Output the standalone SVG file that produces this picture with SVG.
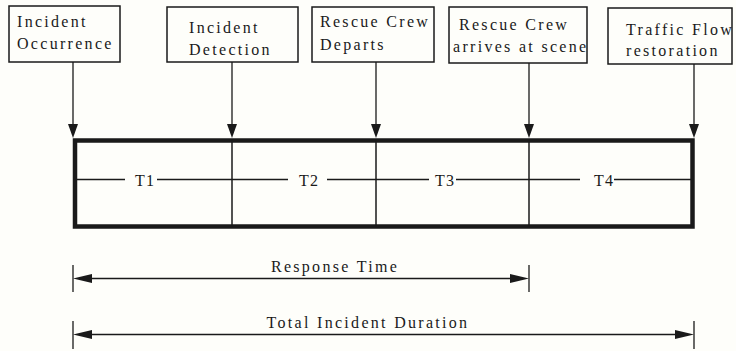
<svg xmlns="http://www.w3.org/2000/svg" width="736" height="351" viewBox="0 0 736 351">
<defs>
<style>
.box{fill:none;stroke:#1a1a1a;stroke-width:1.5}
.lbl{font-family:"Liberation Serif","Times New Roman",serif;font-size:16px;letter-spacing:2.3px;fill:#1a1a1a}
.t{font-family:"Liberation Serif","Times New Roman",serif;font-size:16px;letter-spacing:1px;fill:#1a1a1a;text-anchor:middle}
.ln{stroke:#1a1a1a;stroke-width:1.5;fill:none}
.thin{stroke:#1a1a1a;stroke-width:1.3;fill:none}
.ah{fill:#1a1a1a}
</style>
</defs>
<rect width="736" height="351" fill="#fefefa"/>
<g id="n1">
<rect class="box" x="9" y="6" width="111" height="56"/>
<text class="lbl" x="17" y="27">Incident</text>
<text class="lbl" x="17" y="49">Occurrence</text>
</g>
<g id="n2">
<rect class="box" x="167" y="7" width="131" height="55"/>
<text class="lbl" x="189" y="33">Incident</text>
<text class="lbl" x="189" y="55">Detection</text>
</g>
<g id="n3">
<rect class="box" x="312" y="7" width="122" height="55"/>
<text class="lbl" x="320" y="27">Rescue Crew</text>
<text class="lbl" x="320" y="50">Departs</text>
</g>
<g id="n4">
<rect class="box" x="449" y="7" width="138" height="56"/>
<text class="lbl" x="459" y="30">Rescue Crew</text>
<text class="lbl" x="453" y="52">arrives at scene</text>
</g>
<g id="n5">
<rect class="box" x="608" y="8" width="124" height="56"/>
<text class="lbl" x="626" y="35">Traffic Flow</text>
<text class="lbl" x="626" y="56">restoration</text>
</g>
<g id="timeline">
<rect x="75" y="140.5" width="617.5" height="86" fill="none" stroke="#1a1a1a" stroke-width="4.5"/>
<line class="ln" x1="232" y1="140" x2="232" y2="227" stroke-width="2.2"/>
<line class="ln" x1="376" y1="140" x2="376" y2="227" stroke-width="2.2"/>
<line class="ln" x1="529" y1="140" x2="529" y2="227" stroke-width="2.2"/>
<g id="seg1">
<line class="thin" x1="77" y1="179.5" x2="125" y2="179.5"/>
<line class="thin" x1="157" y1="179.5" x2="232" y2="179.5"/>
<text class="t" x="145" y="186">T1</text>
</g>
<g id="seg2">
<line class="thin" x1="232" y1="179.5" x2="288" y2="179.5"/>
<line class="thin" x1="327" y1="179.5" x2="376" y2="179.5"/>
<text class="t" x="309" y="186">T2</text>
</g>
<g id="seg3">
<line class="thin" x1="376" y1="179.5" x2="429" y2="179.5"/>
<line class="thin" x1="456" y1="179.5" x2="529" y2="179.5"/>
<text class="t" x="445" y="186">T3</text>
</g>
<g id="seg4">
<line class="thin" x1="529" y1="179.5" x2="580" y2="179.5"/>
<line class="thin" x1="614" y1="179.5" x2="691" y2="179.5"/>
<text class="t" x="604" y="186">T4</text>
</g>
</g>
<g id="connectors">
<line class="thin" x1="73" y1="62" x2="73" y2="128"/>
<polygon class="ah" points="68,124 78,124 73,138"/>
<line class="thin" x1="232" y1="62" x2="232" y2="128"/>
<polygon class="ah" points="227,124 237,124 232,138"/>
<line class="thin" x1="376" y1="62" x2="376" y2="128"/>
<polygon class="ah" points="371,124 381,124 376,138"/>
<line class="thin" x1="529" y1="63" x2="529" y2="128"/>
<polygon class="ah" points="524,124 534,124 529,138"/>
<line class="thin" x1="694" y1="64" x2="694" y2="128"/>
<polygon class="ah" points="689,124 699,124 694,138"/>
</g>
<g id="response">
<line class="thin" x1="73" y1="265" x2="73" y2="292"/>
<line class="thin" x1="529" y1="265" x2="529" y2="292"/>
<line class="ln" x1="88" y1="278.5" x2="514" y2="278.5"/>
<polygon class="ah" points="73,278.5 92,274 92,283"/>
<polygon class="ah" points="529,278.5 510,274 510,283"/>
<text class="lbl" x="335" y="272" text-anchor="middle" letter-spacing="2.5">Response Time</text>
</g>
<g id="total">
<line class="thin" x1="73" y1="321" x2="73" y2="349"/>
<line class="thin" x1="694" y1="321" x2="694" y2="349"/>
<line class="ln" x1="88" y1="334.5" x2="679" y2="334.5"/>
<polygon class="ah" points="73,334.5 92,330 92,339"/>
<polygon class="ah" points="694,334.5 675,330 675,339"/>
<text class="lbl" x="368" y="328" text-anchor="middle" letter-spacing="0.3">Total Incident Duration</text>
</g>
</svg>
